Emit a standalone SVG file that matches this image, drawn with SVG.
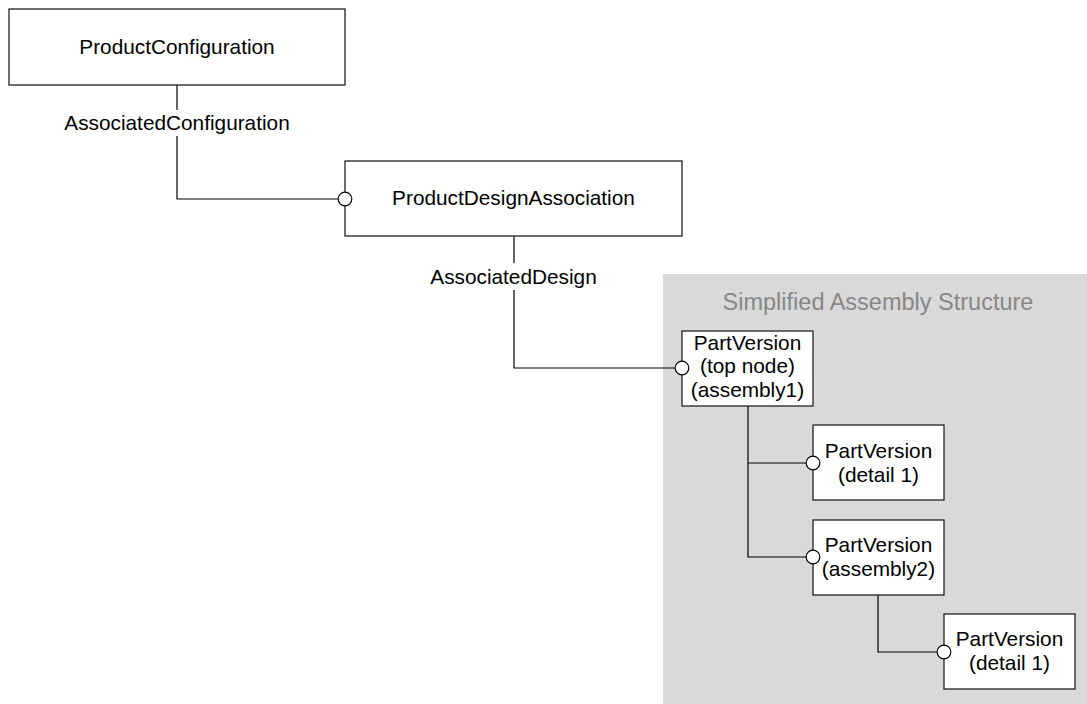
<svg xmlns="http://www.w3.org/2000/svg" width="1087" height="704" viewBox="0 0 1087 704">
<style>
.box{fill:#fff;stroke:#222;stroke-width:1.3}
.t{font-family:"Liberation Sans",Arial,sans-serif;font-size:20.8px;fill:#000;text-anchor:middle}
.title{font-family:"Liberation Sans",Arial,sans-serif;font-size:23.5px;fill:#878787;text-anchor:middle}
.conn{fill:none;stroke:#000;stroke-width:1.2}
.end{fill:#fff;stroke:#000;stroke-width:1.2}
</style>
<rect width="1087" height="704" fill="#fff"/>
<g id="region">
<rect x="663" y="274" width="424" height="430" fill="#d9d9d9"/>
<text class="title" x="878" y="310">Simplified Assembly Structure</text>
</g>
<g id="connectors">
<path class="conn" d="M177,85 V110 M177,136 V199 H338"/>
<text class="t" x="177" y="130">AssociatedConfiguration</text>
<path class="conn" d="M514,236 V263 M514,290 V368 H675"/>
<text class="t" x="513.5" y="283.5">AssociatedDesign</text>
<path class="conn" d="M748,406 V557 H806 M748,463 H806"/>
<path class="conn" d="M878,595 V652 H937"/>
</g>
<g id="ProductConfiguration">
<rect class="box" x="9" y="9" width="336" height="76"/>
<text class="t" x="177" y="54">ProductConfiguration</text>
</g>
<g id="ProductDesignAssociation">
<rect class="box" x="345" y="161" width="337" height="75"/>
<text class="t" x="513.5" y="205">ProductDesignAssociation</text>
</g>
<g id="PartVersionTop">
<rect class="box" x="682" y="331" width="131" height="75"/>
<text class="t" x="747.5" y="349.5">PartVersion</text>
<text class="t" x="747.5" y="373">(top node)</text>
<text class="t" x="747.5" y="396.5">(assembly1)</text>
</g>
<g id="PartVersionDetail1">
<rect class="box" x="813" y="425" width="131" height="75"/>
<text class="t" x="878.5" y="457.5">PartVersion</text>
<text class="t" x="878.5" y="481.5">(detail 1)</text>
</g>
<g id="PartVersionAssembly2">
<rect class="box" x="813" y="520" width="131" height="75"/>
<text class="t" x="878.5" y="552">PartVersion</text>
<text class="t" x="878.5" y="576">(assembly2)</text>
</g>
<g id="PartVersionDetail1b">
<rect class="box" x="944" y="614" width="131" height="75"/>
<text class="t" x="1009.5" y="646">PartVersion</text>
<text class="t" x="1009.5" y="670">(detail 1)</text>
</g>
<g id="ends">
<circle class="end" cx="345" cy="199" r="6.8"/>
<circle class="end" cx="682" cy="368" r="6.8"/>
<circle class="end" cx="813" cy="463" r="6.8"/>
<circle class="end" cx="813" cy="557" r="6.8"/>
<circle class="end" cx="944" cy="652" r="6.8"/>
</g>
</svg>
